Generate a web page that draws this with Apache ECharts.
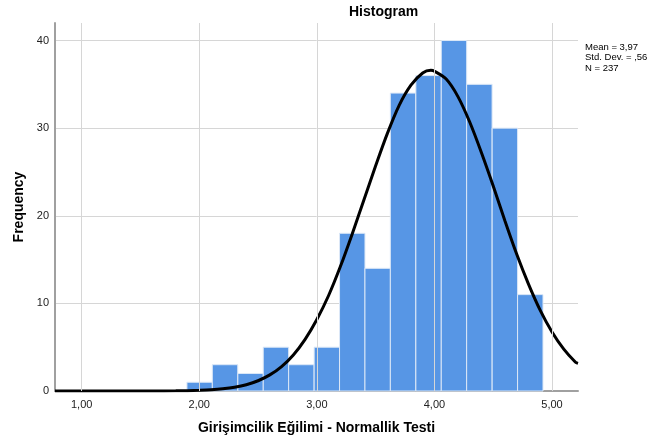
<!DOCTYPE html>
<html>
<head>
<meta charset="utf-8">
<script src="https://cdn.jsdelivr.net/npm/echarts@6/dist/echarts.min.js"></script>
<style>html,body{margin:0;padding:0;background:#fff;}#c{width:649px;height:440px;}</style>
</head>
<body>
<div id="c"></div>
<script>
// Histogram bins (lower edges) and counts
var binLow = [1.895, 2.111, 2.328, 2.544, 2.760, 2.977, 3.193, 3.409, 3.625, 3.842, 4.058, 4.274, 4.491, 4.707];
var binWidth = 0.2163;
var counts = [1, 3, 2, 5, 3, 5, 18, 14, 34, 36, 40, 35, 30, 11];
// Normal curve
var curveX = [0.773, 1.0, 1.2, 1.4, 1.6, 1.8, 1.9, 2.0, 2.1, 2.2, 2.3, 2.4, 2.5, 2.6, 2.7, 2.8, 2.9, 3.0, 3.1, 3.2, 3.3, 3.4, 3.5, 3.6, 3.7, 3.8, 3.9, 3.97, 4.0, 4.1, 4.2, 4.3, 4.4, 4.5, 4.6, 4.7, 4.8, 4.9, 5.0, 5.1, 5.2, 5.221];
var curveY = [0, 0, 0, 0, 0, 0.02, 0.04, 0.08, 0.14, 0.25, 0.43, 0.72, 1.17, 1.84, 2.79, 4.12, 5.90, 8.16, 10.9, 14.2, 17.9, 21.8, 25.7, 29.4, 32.6, 34.9, 36.3, 36.6, 36.5, 35.6, 33.6, 30.7, 27.2, 23.4, 19.4, 15.6, 12.2, 9.2, 6.74, 4.78, 3.28, 3.15];
// Tick labels
var xTicks = [1, 2, 3, 4, 5];
var xTickLabels = ['1,00', '2,00', '3,00', '4,00', '5,00'];
var yTicks = [0, 10, 20, 30, 40];
var statsLines = ['Mean = 3,97', 'Std. Dev. = ,56', 'N = 237'];

var chart = echarts.init(document.getElementById('c'), null, {renderer: 'canvas'});
var font = 'Liberation Sans, Arial, sans-serif';

var barData = binLow.map(function (lo, i) { return [lo, lo + binWidth, counts[i]]; });
var curveData = curveX.map(function (x, i) { return [x, curveY[i]]; });

chart.setOption({
  animation: false,
  backgroundColor: '#ffffff',
  textStyle: {fontFamily: font},
  grid: {left: 55, right: 71, top: 23, bottom: 48, containLabel: false},
  graphic: [
    {type: 'text', left: 349, top: 5, style: {text: 'Histogram', font: 'bold 14px ' + font, fill: '#000'}},
    {type: 'text', left: 585, top: 42, style: {text: statsLines.join('\n'), font: '9.5px ' + font, fill: '#000', lineHeight: 10.5}}
  ],
  xAxis: {
    type: 'value', min: 0.773, max: 5.221,
    name: 'Girişimcilik Eğilimi - Normallik Testi',
    nameLocation: 'middle', nameGap: 30,
    nameTextStyle: {fontFamily: font, fontSize: 14, fontWeight: 'bold', color: '#000'},
    axisLine: {show: true, onZero: false, lineStyle: {color: '#a0a0a0', width: 2}},
    axisTick: {show: false},
    splitLine: {show: false},
    axisLabel: {
      customValues: xTicks, margin: 8, fontSize: 11, color: '#222', fontFamily: font,
      formatter: function (v) { var i = xTicks.indexOf(Math.round(v * 1000) / 1000); return i >= 0 ? xTickLabels[i] : ''; }
    }
  },
  yAxis: {
    type: 'value', min: 0, max: 42, interval: 10,
    name: 'Frequency', nameLocation: 'middle', nameGap: 28,
    nameTextStyle: {fontFamily: font, fontSize: 14, fontWeight: 'bold', color: '#000'},
    axisLine: {show: true, lineStyle: {color: '#a0a0a0', width: 2}},
    axisTick: {show: false},
    axisLabel: {margin: 6, fontSize: 11, color: '#222', fontFamily: font, showMaxLabel: false,
      formatter: function (v) { return yTicks.indexOf(v) >= 0 ? String(v) : ''; }},
    splitLine: {show: true, showMaxLine: false, lineStyle: {color: '#d6d6d6', width: 1}}
  },
  series: [
    {
      type: 'line', data: [], z: 0, silent: true,
      markLine: {
        symbol: 'none', silent: true, label: {show: false},
        lineStyle: {color: '#d6d6d6', width: 1, type: 'solid'},
        data: xTicks.map(function (v) { return {xAxis: v}; })
      }
    },
    {
      type: 'custom', z: 2,
      encode: {x: [0, 1], y: 2},
      data: barData,
      renderItem: function (params, api) {
        var p0 = api.coord([api.value(0), api.value(2)]);
        var p1 = api.coord([api.value(1), 0]);
        return {
          type: 'rect',
          shape: {x: p0[0], y: p0[1], width: p1[0] - p0[0], height: p1[1] - p0[1]},
          style: {fill: '#5796e5', stroke: '#dce8f7', lineWidth: 1}
        };
      }
    },
    {
      type: 'line', z: 3, data: curveData, smooth: 0.3, symbol: 'none', silent: true,
      lineStyle: {color: '#000', width: 3}
    }
  ]
});
</script>
</body>
</html>
